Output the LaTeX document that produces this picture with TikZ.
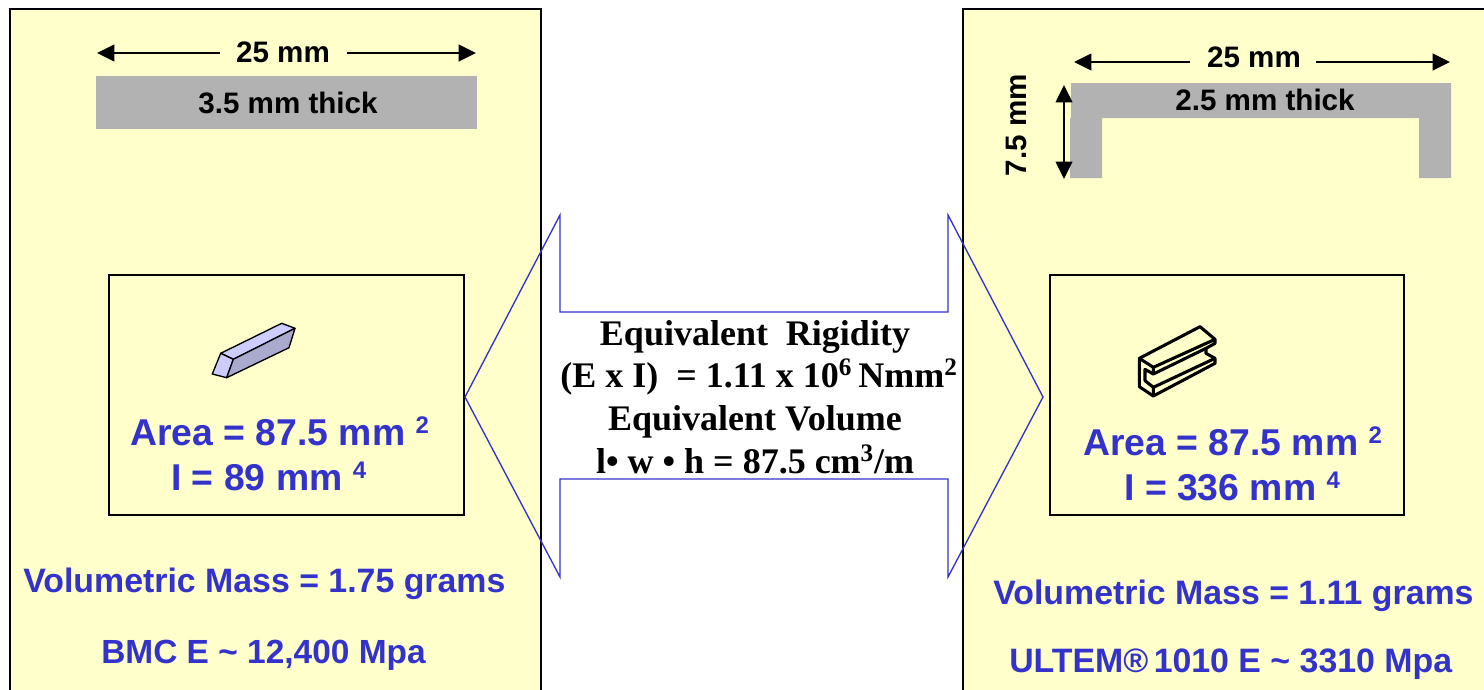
\documentclass[tikz,border=0pt]{standalone}
\usepackage{fontspec}
\setmainfont{Liberation Sans}
\newfontfamily\serifbold{Liberation Serif}
\usetikzlibrary{calc, positioning, arrows.meta}

\definecolor{panelyellow}{HTML}{FFFFCC}
\definecolor{sectiongray}{HTML}{B2B2B2}
\definecolor{labelblue}{HTML}{3333CC}
\definecolor{barlight}{HTML}{CCCCFF}
\definecolor{barshade}{HTML}{AAAACC}

\newcommand{\supnum}[1]{\raisebox{0.32em}{\fontsize{18}{18}\selectfont #1}}

\tikzset{
  panel/.style={draw=black, line width=0.8pt, fill=panelyellow},
  section/.style={fill=sectiongray},
  dimarrow/.style={line width=1.2pt, {Triangle[length=13pt,width=12.5pt]}-{Triangle[length=13pt,width=12.5pt]}},
  dimleft/.style={line width=1.2pt, {Triangle[length=13pt,width=12.5pt]}-},
  dimright/.style={line width=1.2pt, -{Triangle[length=13pt,width=12.5pt]}},
  dimlabel/.style={font=\fontsize{22.2}{22}\selectfont\bfseries, inner sep=0pt},
  arealabel/.style={font=\fontsize{28}{28}\selectfont\bfseries, text=labelblue, anchor=base west, inner sep=0pt},
  masslabel/.style={font=\fontsize{25.4}{25}\selectfont\bfseries, text=labelblue, anchor=base west, inner sep=0pt},
  barface/.style={draw=black, line width=1pt, line join=round},
  channel/.style={draw=black, line width=2.3pt, line join=round, fill=panelyellow}
}

\begin{document}
\begin{tikzpicture}[x=0.75pt, y=-0.75pt]
\clip (0,0) rectangle (1484,689);
\fill[white] (0,0) rectangle (1484,689);

% Yellow panels
\draw[panel] (10,9) rectangle (541,720);
\draw[panel] (963,9) rectangle (1520,720);

% Inner boxes
\draw[panel] (109,275) rectangle (464,515);
\draw[panel] (1050,275) rectangle (1404,515);

% Flat section, left
\fill[section] (96,76) rectangle (477,129);
\node[dimlabel] (thickleft) at (288,103) {3.5 mm thick};
\node[dimlabel] (widthleft) at (283,52) {25 mm};
\coordinate (widthleftA) at (97,53);
\coordinate (widthleftB) at (220,53);
\coordinate (widthleftC) at (347,53);
\coordinate (widthleftD) at (476,53);
\draw[dimleft] (widthleftA) -- (widthleftB);
\draw[dimright] (widthleftC) -- (widthleftD);

% U section, right
\fill[section] (1071,83) -- (1451,83) -- (1451,178) -- (1419,178) -- (1419,118)
  -- (1102,118) -- (1102,178) -- (1070,178) -- (1070,118) -- (1071,118) -- cycle;
\node[dimlabel] (thickright) at (1265,100) {2.5 mm thick};
\node[dimlabel] (widthright) at (1254,57) {25 mm};
\coordinate (widthrightA) at (1074,62);
\coordinate (widthrightB) at (1190,62);
\coordinate (widthrightC) at (1316,62);
\coordinate (widthrightD) at (1450,62);
\draw[dimleft] (widthrightA) -- (widthrightB);
\draw[dimright] (widthrightC) -- (widthrightD);
\node[dimlabel, rotate=90] (heightright) at (1016,125) {7.5 mm};
\coordinate (heightrightA) at (1064,85);
\coordinate (heightrightB) at (1064,179);
\draw[dimarrow] (heightrightA) -- (heightrightB);

% Solid bar
\draw[barface, fill=barlight] (220.7,353.3) -- (281.7,323.3) -- (295,328.3) -- (233.3,359.3) -- cycle;
\draw[barface, fill=barlight] (220.7,353.3) -- (233.3,359.3) -- (226.7,377.7) -- (212.3,374) -- cycle;
\draw[barface, fill=barshade] (233.3,359.3) -- (295,328.3) -- (289,347.7) -- (226.7,377.7) -- cycle;

% Channel
\begin{scope}[shift={(1120,310)}, x=0.25pt, y=-0.25pt]
\draw[channel] (58,145) -- (240,50) -- (285,88) -- (285,100) -- (258,115) -- (258,130)
  -- (285,145) -- (285,160) -- (100,258) -- (58,230) -- cycle;
\draw[channel, fill=none] (58,145) -- (100,172) -- (285,88);
\draw[channel, fill=none] (100,172) -- (100,192) -- (258,115);
\draw[channel, fill=none] (100,192) -- (75,178) -- (75,212) -- (100,232) -- (100,258);
\draw[channel, fill=none] (100,232) -- (285,145);
\end{scope}

% Text, left
\node[arealabel] (arealeft) at (130,445) {Area = 87.5 mm \supnum{2}};
\node[arealabel] (inertialeft) at (171,490) {I = 89 mm \supnum{4}};
\node[masslabel] (massleft) at (23,592) {Volumetric Mass = 1.75 grams};
\node[masslabel, font=\fontsize{25.1}{25}\selectfont\bfseries] (modulusleft) at (101,663) {BMC E \textasciitilde{} 12,400 Mpa};

% Text, right
\node[arealabel] (arearight) at (1083,455) {Area = 87.5 mm \supnum{2}};
\node[arealabel] (inertiaright) at (1124,500) {I = 336 mm \supnum{4}};
\node[masslabel] (massright) at (993,604) {Volumetric Mass = 1.11 grams};
\node[masslabel] (modulusright) at (1009,672) {ULTEM\textregistered{}\kern-3pt{} 1010 E \textasciitilde{} 3310 Mpa};

% Double arrow outline
\draw[labelblue, line width=1pt, line join=miter] (465,397) -- (560,215) -- (560,312) -- (948,312)
  -- (948,215) -- (1043,397) -- (948,577) -- (948,479) -- (560,479) -- (560,577) -- cycle;

% Centre text
\node[font=\serifbold\fontsize{27}{32}\selectfont\bfseries, align=center, inner sep=0pt] (centretext) at (755,397)
  {Equivalent\ \ Rigidity\\
   (E x I)\ \ = 1.11 x 10\textsuperscript{6}\kern-2pt{} Nmm\textsuperscript{2}\kern-6pt{}\\
   Equivalent Volume\\
   l\textbullet\ w \textbullet\ h = 87.5 cm\textsuperscript{3}/m};
\end{tikzpicture}
\end{document}
